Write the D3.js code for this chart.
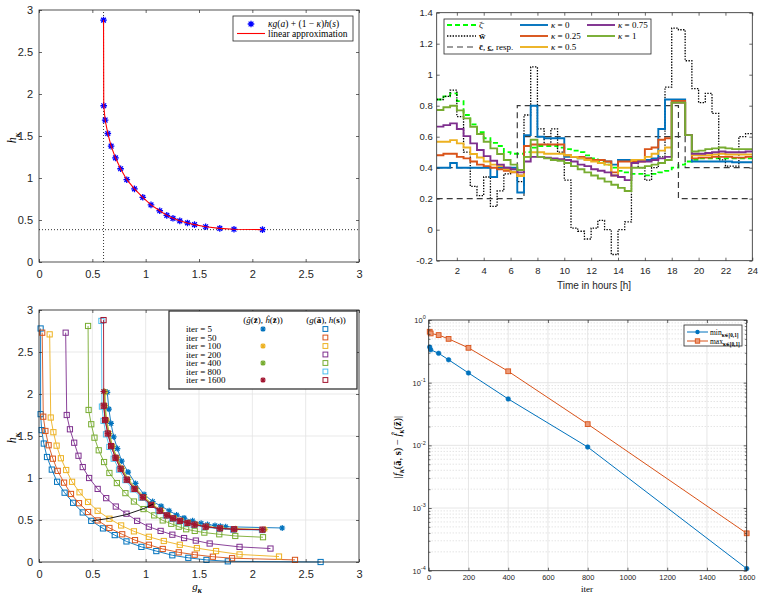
<!DOCTYPE html>
<html><head><meta charset="utf-8">
<script src="https://cdn.jsdelivr.net/npm/d3@7"></script>
<style>body{margin:0;background:#fff}svg{display:block}</style>
</head><body><svg id="c" width="763" height="597"></svg>
<script>
// ---------- DATA ----------
// Panel 1 (top-left)
const tlG = [0.605,0.607,0.62,0.645,0.676,0.717,0.765,0.823,0.895,0.973,1.05,1.132,1.198,1.256,1.32,1.392,1.458,1.562,1.695,1.828,2.095];
const tlH = [2.88,1.86,1.69,1.53,1.38,1.24,1.11,0.98,0.87,0.77,0.68,0.61,0.555,0.52,0.49,0.465,0.445,0.42,0.40,0.39,0.385];
const tlGmin = 0.605, tlHmin = 0.385;
const ticks03 = [0,0.5,1,1.5,2,2.5,3];

// Panel 2 (top-right), half-hour slots from 0.5 to 24
const hours = d3.range(0.5, 24.01, 0.5);
const zeta = [0.84,0.86,0.88,0.83,0.74,0.68,0.63,0.59,0.56,0.54,0.50,0.49,0.49,0.50,0.53,0.54,0.54,0.54,0.53,0.52,0.51,0.50,0.48,0.46,0.44,0.42,0.40,0.38,0.37,0.36,0.36,0.35,0.36,0.37,0.38,0.40,0.42,0.44,0.45,0.46,0.46,0.46,0.46,0.46,0.46,0.46,0.46,0.46];
const wbar = [0.84,0.86,0.90,0.73,0.50,0.28,0.22,0.34,0.15,0.25,0.36,0.40,0.31,0.74,1.05,0.65,0.55,0.65,0.50,0.32,0.01,-0.01,-0.06,0.01,0.06,0.00,-0.16,0.00,0.05,0.45,0.40,0.32,0.40,0.47,0.92,1.30,1.29,1.09,0.91,0.82,0.88,0.75,0.45,0.41,0.41,0.60,0.62,0.62];
const cUp = [0.4,0.4,0.4,0.4,0.4,0.4,0.4,0.4,0.4,0.4,0.4,0.4,0.8,0.8,0.8,0.8,0.8,0.8,0.8,0.8,0.8,0.8,0.8,0.8,0.8,0.8,0.8,0.8,0.8,0.8,0.8,0.8,0.8,0.8,0.8,0.8,0.2,0.2,0.2,0.2,0.2,0.2,0.2,0.2,0.2,0.2,0.2,0.2];
const cLo = [0.2,0.2,0.2,0.2,0.2,0.2,0.2,0.2,0.2,0.2,0.2,0.2,0.2,0.6,0.6,0.6,0.6,0.6,0.6,0.6,0.6,0.6,0.6,0.6,0.6,0.6,0.6,0.6,0.6,0.6,0.6,0.6,0.6,0.6,0.6,0.6,0.6,0.4,0.4,0.4,0.4,0.4,0.4,0.4,0.4,0.4,0.4,0.4];
const k0 = [0.40,0.40,0.43,0.40,0.40,0.40,0.40,0.40,0.34,0.40,0.40,0.40,0.24, 0.61,0.80,0.60,0.59,0.59,0.59,0.47, 0.47,0.46,0.46,0.45,0.45,0.44,0.42,0.45,0.45,0.45, 0.45,0.45,0.46,0.65,0.84,0.84,0.84,0.61, 0.44,0.44,0.44,0.44,0.44,0.44,0.435,0.435,0.435,0.435];
const k25 = [0.48,0.49,0.49,0.47,0.46,0.44,0.42,0.41,0.40,0.39,0.38,0.37,0.35, 0.54,0.55,0.55,0.55,0.55,0.55,0.48, 0.47,0.47,0.46,0.45,0.45,0.44,0.37,0.44,0.44,0.44, 0.44,0.52,0.53,0.58,0.59,0.83,0.83,0.61, 0.46,0.465,0.465,0.47,0.47,0.47,0.465,0.465,0.47,0.47];
const k50 = [0.567,0.567,0.578,0.557,0.53,0.488,0.466,0.44,0.42,0.41,0.39,0.374,0.346, 0.47,0.50,0.50,0.49,0.49,0.49,0.48, 0.47,0.46,0.45,0.44,0.43,0.42,0.35,0.40,0.40,0.45, 0.45,0.47,0.49,0.51,0.53,0.82,0.82,0.61, 0.48,0.48,0.48,0.485,0.49,0.485,0.485,0.485,0.485,0.485];
const k75 = [0.665,0.675,0.686,0.65,0.604,0.557,0.514,0.475,0.445,0.42,0.40,0.39,0.37, 0.44,0.47,0.47,0.465,0.46,0.455,0.45, 0.44,0.42,0.41,0.39,0.38,0.37,0.35,0.34,0.32,0.43, 0.44,0.44,0.45,0.46,0.47,0.82,0.82,0.61, 0.49,0.49,0.495,0.50,0.505,0.50,0.50,0.50,0.505,0.505];
const k100 = [0.772,0.79,0.80,0.77,0.718,0.664,0.617,0.567,0.525,0.488,0.45,0.42,0.385, 0.47,0.58,0.47,0.46,0.45,0.445,0.43, 0.41,0.39,0.37,0.35,0.33,0.31,0.29,0.27,0.25,0.40, 0.40,0.41,0.42,0.43,0.45,0.82,0.82,0.61, 0.505,0.51,0.52,0.525,0.53,0.525,0.52,0.52,0.52,0.52];
const kappaLabels = ["0","0.25","0.5","0.75","1"];
const trXTicks = [2,4,6,8,10,12,14,16,18,20,22,24];
const trYTicks = [-0.2,0,0.2,0.4,0.6,0.8,1,1.2,1.4];

// Panel 3 (bottom-left)
const iterLabels = ["5","50","100","200","400","800","1600"];
const sq5G = [0.015,0.015,0.025,0.045,0.075,0.12,0.17,0.24,0.32,0.41,0.49,0.60,0.71,0.82,0.96,1.10,1.25,1.40,1.57,1.77,2.64];
const sq5H = [2.78,1.76,1.57,1.41,1.25,1.10,0.955,0.825,0.705,0.59,0.49,0.40,0.32,0.245,0.18,0.13,0.08,0.05,0.025,0.008,0.0];
const sq50G = [0.03,0.04,0.06,0.09,0.13,0.175,0.235,0.30,0.375,0.46,0.55,0.66,0.78,0.90,1.03,1.16,1.31,1.46,1.63,1.81,2.40];
const sq50H = [2.73,1.73,1.56,1.39,1.23,1.085,0.945,0.81,0.70,0.595,0.495,0.405,0.33,0.26,0.205,0.155,0.115,0.087,0.063,0.045,0.025];
const sq100G = [0.10,0.11,0.135,0.165,0.205,0.255,0.31,0.38,0.46,0.55,0.66,0.77,0.89,1.03,1.17,1.32,1.48,1.66,1.88,2.25];
const sq100H = [2.71,1.72,1.545,1.385,1.235,1.095,0.955,0.83,0.715,0.61,0.515,0.435,0.365,0.30,0.25,0.205,0.165,0.13,0.09,0.065];
const sq200G = [0.25,0.26,0.29,0.33,0.37,0.41,0.47,0.55,0.63,0.72,0.82,0.92,1.03,1.14,1.25,1.36,1.47,1.60,1.88,2.17];
const sq200H = [2.73,1.75,1.58,1.42,1.265,1.13,1.0,0.87,0.76,0.66,0.575,0.49,0.42,0.37,0.325,0.285,0.255,0.22,0.18,0.16];
const sq400G = [0.46,0.465,0.49,0.52,0.56,0.61,0.66,0.73,0.81,0.89,0.98,1.08,1.16,1.24,1.31,1.38,1.46,1.55,1.69,1.84,2.10];
const sq400H = [2.81,1.81,1.64,1.48,1.33,1.19,1.06,0.94,0.82,0.72,0.63,0.555,0.495,0.455,0.42,0.39,0.37,0.35,0.33,0.31,0.295];
const sq800G = [0.585,0.59,0.605,0.628,0.66,0.70,0.75,0.81,0.88,0.96,1.04,1.12,1.19,1.25,1.31,1.38,1.45,1.55,1.69,1.82,2.09];
const sq800H = [2.87,1.85,1.68,1.52,1.37,1.23,1.10,0.975,0.865,0.765,0.68,0.605,0.555,0.515,0.485,0.46,0.44,0.415,0.395,0.385,0.38];
const sq1600G = [0.605,0.607,0.62,0.645,0.676,0.717,0.765,0.823,0.895,0.973,1.05,1.132,1.198,1.256,1.32,1.392,1.458,1.562,1.695,1.828,2.095];
const sq1600H = [2.88,1.86,1.69,1.53,1.38,1.24,1.11,0.98,0.87,0.77,0.68,0.61,0.555,0.52,0.49,0.465,0.445,0.42,0.40,0.39,0.385];
const st5G = [0.64,0.655,0.675,0.70,0.735,0.775,0.835,0.905,0.985,1.065,1.145,1.22,1.29,1.36,1.44,1.52,1.58,1.65,1.70,1.75,2.28];
const st5H = [2.02,1.82,1.65,1.49,1.35,1.20,1.07,0.935,0.805,0.72,0.665,0.61,0.56,0.525,0.49,0.46,0.445,0.435,0.425,0.42,0.405];
const st100G = [0.62,0.622,0.635,0.66,0.69,0.73,0.78,0.838,0.91,0.988,1.065,1.147,1.213,1.27,1.335,1.405,1.472,1.575,1.71,1.843,2.12];
const st100H = [2.02,1.86,1.69,1.53,1.38,1.245,1.115,0.985,0.875,0.775,0.685,0.615,0.56,0.525,0.495,0.47,0.45,0.425,0.405,0.395,0.39];
const st400G = [0.615,0.617,0.63,0.655,0.686,0.727,0.775,0.833,0.905,0.983,1.06,1.142,1.208,1.266,1.33,1.40,1.466,1.57,1.703,1.836,2.105];
const st400H = [2.03,1.86,1.69,1.53,1.38,1.24,1.11,0.98,0.87,0.77,0.68,0.61,0.555,0.52,0.49,0.465,0.445,0.42,0.40,0.39,0.385];
const st1600G = [0.605,0.607,0.62,0.645,0.676,0.717,0.765,0.823,0.895,0.973,1.05,1.132,1.198,1.256,1.32,1.392,1.458,1.562,1.695,1.828,2.095];
const st1600H = [2.03,1.86,1.69,1.53,1.38,1.24,1.11,0.98,0.87,0.77,0.68,0.61,0.555,0.52,0.49,0.465,0.445,0.42,0.40,0.39,0.385];
const blackG = [0.50,0.66,0.82,0.98,1.07];
const blackH = [0.49,0.52,0.565,0.635,0.69];

// Panel 4 (bottom-right)
const iters = [5,10,50,100,200,400,800,1600];
const errMin = [0.37,0.335,0.294,0.232,0.143,0.055,0.0094,0.000108];
const errMax = [0.65,0.61,0.575,0.50,0.36,0.152,0.0218,0.000395];
const brXTicks = [0,200,400,600,800,1000,1200,1400,1600];
const brYTicks = [1e-4,1e-3,1e-2,1e-1,1];
const brYExp = ["-4","-3","-2","-1","0"];

// ---------- HELPERS ----------
const SANS = '"Liberation Sans", Arial, Helvetica, sans-serif';
const SERIF = '"Liberation Serif", "DejaVu Serif", serif';
const AX = '#262626';
const svg = d3.select('#c');

const C = {blue:'#0072BD', orange:'#D95319', yellow:'#EDB120', purple:'#7E2F8E', green:'#77AC30', cyan:'#4DBEEE', red:'#A2142F'};

function rich(sel, x, y, parts, size, anchor, rot) {
  const t = sel.append('text').attr('x', x).attr('y', y).attr('font-size', size)
    .attr('font-family', SERIF).attr('fill', '#000').attr('text-anchor', anchor || 'start');
  if (rot) t.attr('transform', `rotate(${rot},${x},${y})`);
  let shift = 0;
  parts.forEach(p => {
    const s = typeof p === 'string' ? p : p[0];
    const st = typeof p === 'string' ? '' : p[1];
    let target = 0;
    if (st.includes('sub')) target = size * 0.3;
    if (st.includes('sup')) target = -size * 0.4;
    const ts = t.append('tspan').text(s);
    if (target - shift !== 0) ts.attr('dy', target - shift);
    shift = target;
    if (st.includes('i')) ts.attr('font-style', 'italic');
    if (st.includes('b')) ts.attr('font-weight', 'bold');
    if (st.includes('sub') || st.includes('sup')) ts.attr('font-size', size * 0.7);
  });
  return t;
}

function frame(x, y, xt, yt, xf, yf, fs, padX, padY) {
  const [xa, xb] = x.range(), [ya, yb] = y.range();
  const gs = [];
  gs.push(svg.append('g').attr('transform', `translate(0,${ya})`).call(d3.axisBottom(x).tickValues(xt).tickSizeInner(-3).tickSizeOuter(0).tickPadding(padX).tickFormat(xf)));
  gs.push(svg.append('g').attr('transform', `translate(0,${yb})`).call(d3.axisTop(x).tickValues(xt).tickSizeInner(-3).tickSizeOuter(0).tickFormat(() => '')));
  gs.push(svg.append('g').attr('transform', `translate(${xa},0)`).call(d3.axisLeft(y).tickValues(yt).tickSizeInner(-3).tickSizeOuter(0).tickPadding(padY).tickFormat(yf)));
  gs.push(svg.append('g').attr('transform', `translate(${xb},0)`).call(d3.axisRight(y).tickValues(yt).tickSizeInner(-3).tickSizeOuter(0).tickFormat(() => '')));
  gs.forEach(g => {
    g.select('.domain').remove();
    g.selectAll('line').attr('stroke', AX).attr('stroke-width', 0.7);
    g.selectAll('text').attr('fill', AX).attr('font-size', fs).attr('font-family', SANS);
  });
  svg.append('rect').attr('x', xa).attr('y', yb).attr('width', xb - xa).attr('height', ya - yb)
    .attr('fill', 'none').attr('stroke', AX).attr('stroke-width', 0.8);
  return gs;
}

function starPath(s) {
  const d = s * 0.72;
  return `M${-s},0L${s},0M0,${-s}L0,${s}M${-d},${-d}L${d},${d}M${-d},${d}L${d},${-d}`;
}
const fmtTick = d => (d === 0 ? '0' : String(d));

function clipRect(id, x, y, w, h) {
  svg.append('clipPath').attr('id', id).append('rect').attr('x', x).attr('y', y).attr('width', w).attr('height', h);
}

// ---------- PANEL 1 ----------
{
  const x = d3.scaleLinear().domain([0, 3]).range([39, 359]);
  const y = d3.scaleLinear().domain([0, 3]).range([262, 10]);
  frame(x, y, ticks03, ticks03, fmtTick, fmtTick, 11, 8, 6);
  svg.append('line').attr('x1', x(tlGmin)).attr('x2', x(tlGmin)).attr('y1', y(0)).attr('y2', y(3))
    .attr('stroke', '#000').attr('stroke-width', 0.8).attr('stroke-dasharray', '1,2');
  svg.append('line').attr('x1', x(0)).attr('x2', x(3)).attr('y1', y(tlHmin)).attr('y2', y(tlHmin))
    .attr('stroke', '#000').attr('stroke-width', 0.8).attr('stroke-dasharray', '1,2');
  const pts = tlG.map((g, i) => [g, tlH[i]]);
  svg.append('g').selectAll('path').data(pts).join('path')
    .attr('transform', d => `translate(${x(d[0])},${y(d[1])})`).attr('d', starPath(3.3))
    .attr('stroke', '#0000FF').attr('stroke-width', 1.3).attr('fill', 'none');
  svg.append('path').datum(pts).attr('d', d3.line().x(d => x(d[0])).y(d => y(d[1])))
    .attr('fill', 'none').attr('stroke', '#FF0000').attr('stroke-width', 1.1);
  // legend
  svg.append('rect').attr('x', 233).attr('y', 16).attr('width', 120).attr('height', 25)
    .attr('fill', '#fff').attr('stroke', AX).attr('stroke-width', 0.8);
  svg.append('path').attr('transform', 'translate(251,24)').attr('d', starPath(3.3))
    .attr('stroke', '#0000FF').attr('stroke-width', 1.3).attr('fill', 'none');
  rich(svg, 268, 27, [['κg', 'i'], '(', ['a', 'i'], ') + (1 − ', ['κ', 'i'], ')', ['h', 'i'], '(', ['s', 'i'], ')'], 9.5);
  svg.append('line').attr('x1', 237).attr('x2', 265).attr('y1', 33.5).attr('y2', 33.5).attr('stroke', '#FF0000').attr('stroke-width', 1.1);
  rich(svg, 268, 36.5, ['linear approximation'], 9.5);
  rich(svg, 16, 138, [['h', 'i'], ['κ', 'i sub']], 12, 'middle', -90);
  clipRect('clipTL', 0, 0, 380, 287);
  const xl = rich(svg, 197, 293, [['g', 'i'], ['κ', 'i sub']], 12, 'middle');
  xl.attr('clip-path', 'url(#clipTL)');
}

// ---------- PANEL 2 ----------
{
  const x = d3.scaleLinear().domain([0.5, 24]).range([436.7, 752.3]);
  const y = d3.scaleLinear().domain([-0.2, 1.4]).range([260.7, 12.7]);
  clipRect('clipTR', 436.7, 12.7, 315.6, 248);
  const gl = svg.append('g').attr('clip-path', 'url(#clipTR)');
  const line = d3.line().curve(d3.curveStepAfter).x((d, i) => x(hours[i])).y(d => y(d));
  gl.append('path').datum(zeta).attr('d', line).attr('fill', 'none').attr('stroke', '#00FF00').attr('stroke-width', 1.8).attr('stroke-dasharray', '5,3');
  gl.append('path').datum(wbar).attr('d', line).attr('fill', 'none').attr('stroke', '#000').attr('stroke-width', 1.3).attr('stroke-dasharray', '1.4,1.4');
  gl.append('path').datum(cUp).attr('d', line).attr('fill', 'none').attr('stroke', '#3a3a3a').attr('stroke-width', 1.2).attr('stroke-dasharray', '6,4');
  gl.append('path').datum(cLo).attr('d', line).attr('fill', 'none').attr('stroke', '#3a3a3a').attr('stroke-width', 1.2).attr('stroke-dasharray', '6,4');
  const ks = [[k0, C.blue], [k25, C.orange], [k50, C.yellow], [k75, C.purple], [k100, C.green]];
  ks.forEach(([arr, col]) => {
    gl.append('path').datum(arr).attr('d', line).attr('fill', 'none').attr('stroke', col).attr('stroke-width', 1.9);
  });
  frame(x, y, trXTicks, trYTicks, fmtTick, fmtTick, 9.5, 7, 4);
  svg.append('text').attr('x', 594).attr('y', 289).attr('text-anchor', 'middle').attr('font-size', 10)
    .attr('font-family', SANS).attr('fill', AX).text('Time in hours [h]');
  // legend
  svg.append('rect').attr('x', 444).attr('y', 19).attr('width', 207).attr('height', 35)
    .attr('fill', '#fff').attr('stroke', AX).attr('stroke-width', 0.8);
  const rows = [25, 36, 47];
  const sample = (x1, x2, yy, col, w, dash) => {
    const l = svg.append('line').attr('x1', x1).attr('x2', x2).attr('y1', yy).attr('y2', yy).attr('stroke', col).attr('stroke-width', w);
    if (dash) l.attr('stroke-dasharray', dash);
  };
  sample(447, 476, rows[0], '#00FF00', 1.8, '5,3');
  rich(svg, 479, rows[0] + 3, ['\u03B6\u0304'], 9);
  sample(447, 476, rows[1], '#000', 1.3, '1.4,1.4');
  rich(svg, 479, rows[1] + 3, [['w\u0304', 'b']], 9);
  sample(447, 476, rows[2], '#3a3a3a', 1.2, '6,4');
  rich(svg, 479, rows[2] + 3, [['c\u0304', 'b'], ', ', ['c\u0332', 'b'], ', resp.'], 9);
  const kpos = [[520, rows[0]], [520, rows[1]], [520, rows[2]], [587, rows[0]], [587, rows[1]]];
  ks.forEach(([arr, col], i) => {
    const [lx, ly] = kpos[i];
    sample(lx, lx + 28, ly, col, 1.9);
    rich(svg, lx + 31, ly + 3, [['κ', 'i'], ' = ' + kappaLabels[i]], 9);
  });
}

// ---------- PANEL 3 ----------
{
  const x = d3.scaleLinear().domain([0, 3]).range([39, 359]);
  const y = d3.scaleLinear().domain([0, 3]).range([562, 310]);
  const grid = svg.append('g');
  ticks03.forEach(t => {
    grid.append('line').attr('x1', x(t)).attr('x2', x(t)).attr('y1', y(0)).attr('y2', y(3)).attr('stroke', '#e3e3e3').attr('stroke-width', 0.8);
    grid.append('line').attr('x1', x(0)).attr('x2', x(3)).attr('y1', y(t)).attr('y2', y(t)).attr('stroke', '#e3e3e3').attr('stroke-width', 0.8);
  });
  const ln = d3.line().x(d => x(d[0])).y(d => y(d[1]));
  const squares = (G, H, col) => {
    const pts = G.map((g, i) => [g, H[i]]);
    svg.append('path').datum(pts).attr('d', ln).attr('fill', 'none').attr('stroke', col).attr('stroke-width', 0.9);
    svg.append('g').selectAll('rect').data(pts).join('rect')
      .attr('x', d => x(d[0]) - 2.6).attr('y', d => y(d[1]) - 2.6).attr('width', 5.2).attr('height', 5.2)
      .attr('fill', 'none').attr('stroke', col).attr('stroke-width', 1);
  };
  const stars = (G, H, col) => {
    const pts = G.map((g, i) => [g, H[i]]);
    svg.append('path').datum(pts).attr('d', ln).attr('fill', 'none').attr('stroke', col).attr('stroke-width', 0.9);
    svg.append('g').selectAll('path').data(pts).join('path')
      .attr('transform', d => `translate(${x(d[0])},${y(d[1])})`).attr('d', starPath(3))
      .attr('stroke', col).attr('stroke-width', 1.2).attr('fill', 'none');
  };
  squares(sq5G, sq5H, C.blue); stars(st5G, st5H, C.blue);
  squares(sq50G, sq50H, C.orange);
  squares(sq100G, sq100H, C.yellow); stars(st100G, st100H, C.yellow);
  squares(sq200G, sq200H, C.purple);
  squares(sq400G, sq400H, C.green); stars(st400G, st400H, C.green);
  squares(sq800G, sq800H, C.cyan);
  squares(sq1600G, sq1600H, C.red); stars(st1600G, st1600H, C.red);
  svg.append('path').datum(blackG.map((g, i) => [g, blackH[i]])).attr('d', ln)
    .attr('fill', 'none').attr('stroke', '#000').attr('stroke-width', 0.9);
  frame(x, y, ticks03, ticks03, fmtTick, fmtTick, 11, 8, 6);
  rich(svg, 16, 438, [['h', 'i'], ['κ', 'i sub']], 12, 'middle', -90);
  rich(svg, 197, 590, [['g', 'i'], ['κ', 'i sub']], 11, 'middle');
  // legend
  svg.append('rect').attr('x', 169).attr('y', 311).attr('width', 188).attr('height', 78)
    .attr('fill', '#fff').attr('stroke', AX).attr('stroke-width', 1.2);
  rich(svg, 263, 323, ['(', ['\u011D', 'i'], '(', ['z\u0304', 'b'], '), ', ['\u0125', 'i'], '(', ['z\u0304', 'b'], '))'], 9, 'middle');
  rich(svg, 326, 323, ['(', ['g', 'i'], '(', ['\u0101', 'b'], '), ', ['h', 'i'], '(', ['s', 'b'], '))'], 9, 'middle');
  const cols = [C.blue, C.orange, C.yellow, C.purple, C.green, C.cyan, C.red];
  const starRow = [true, false, true, false, true, false, true];
  iterLabels.forEach((lab, i) => {
    const yy = 329 + i * 8.5;
    rich(svg, 186, yy + 3, ['iter = ' + lab], 9);
    if (starRow[i]) svg.append('path').attr('transform', `translate(263,${yy})`).attr('d', starPath(2.8))
      .attr('stroke', cols[i]).attr('stroke-width', 1.2).attr('fill', 'none');
    svg.append('rect').attr('x', 323).attr('y', yy - 2.4).attr('width', 4.8).attr('height', 4.8)
      .attr('fill', 'none').attr('stroke', cols[i]).attr('stroke-width', 1);
  });
}

// ---------- PANEL 4 ----------
{
  const x = d3.scaleLinear().domain([0, 1600]).range([428.7, 746.7]);
  const y = d3.scaleLog().domain([1e-4, 1]).range([570.7, 320]);
  const minor = [];
  [1e-4, 1e-3, 1e-2, 1e-1].forEach(b => { for (let k = 2; k <= 9; k++) minor.push(b * k); });
  const grid = svg.append('g');
  minor.forEach(v => grid.append('line').attr('x1', x(0)).attr('x2', x(1600)).attr('y1', y(v)).attr('y2', y(v))
    .attr('stroke', '#bdbdbd').attr('stroke-width', 0.6).attr('stroke-dasharray', '1,2'));
  brXTicks.forEach(t => grid.append('line').attr('x1', x(t)).attr('x2', x(t)).attr('y1', y(1e-4)).attr('y2', y(1))
    .attr('stroke', '#e0e0e0').attr('stroke-width', 0.8));
  brYTicks.forEach(t => grid.append('line').attr('x1', x(0)).attr('x2', x(1600)).attr('y1', y(t)).attr('y2', y(t))
    .attr('stroke', '#e0e0e0').attr('stroke-width', 0.8));
  const ln = d3.line().x(d => x(d[0])).y(d => y(d[1]));
  const pMin = iters.map((t, i) => [t, errMin[i]]);
  const pMax = iters.map((t, i) => [t, errMax[i]]);
  svg.append('path').datum(pMin).attr('d', ln).attr('fill', 'none').attr('stroke', C.blue).attr('stroke-width', 1);
  svg.append('g').selectAll('circle').data(pMin).join('circle').attr('cx', d => x(d[0])).attr('cy', d => y(d[1])).attr('r', 2.3)
    .attr('fill', C.blue).attr('stroke', C.blue).attr('stroke-width', 0.6);
  svg.append('path').datum(pMax).attr('d', ln).attr('fill', 'none').attr('stroke', C.orange).attr('stroke-width', 1);
  svg.append('g').selectAll('rect').data(pMax).join('rect').attr('x', d => x(d[0]) - 2.4).attr('y', d => y(d[1]) - 2.4)
    .attr('width', 4.8).attr('height', 4.8).attr('fill', '#EC9A78').attr('stroke', C.orange).attr('stroke-width', 0.9);
  const gs = frame(x, y, brXTicks, brYTicks, d => String(d), () => '', 7.5, 3.5, 3);
  // minor ticks
  svg.append('g').attr('transform', 'translate(428.7,0)').call(d3.axisLeft(y).tickValues(minor).tickSizeInner(-1.8).tickSizeOuter(0).tickFormat(() => ''))
    .call(g => { g.select('.domain').remove(); g.selectAll('line').attr('stroke', AX).attr('stroke-width', 0.6); });
  svg.append('g').attr('transform', 'translate(746.7,0)').call(d3.axisRight(y).tickValues(minor).tickSizeInner(-1.8).tickSizeOuter(0).tickFormat(() => ''))
    .call(g => { g.select('.domain').remove(); g.selectAll('line').attr('stroke', AX).attr('stroke-width', 0.6); });
  gs[2].selectAll('.tick text').each(function (d, i) {
    const t = d3.select(this);
    t.text(null);
    t.append('tspan').text('10');
    t.append('tspan').text(brYExp[brYTicks.indexOf(d)]).attr('dy', -3.5).attr('font-size', 5.5);
  });
  rich(svg, 587, 592, ['iter'], 9, 'middle');
  rich(svg, 401, 447, ['|', ['f', 'i'], ['κ', 'i sub'], '(', ['\u0101', 'b'], ', ', ['s', 'b'], ') − ', ['f\u0302', 'i'], ['κ', 'i sub'], '(', ['z\u0304', 'b'], ')|'], 10.5, 'middle', -90);
  // legend
  svg.append('rect').attr('x', 684).attr('y', 325).attr('width', 58).attr('height', 21)
    .attr('fill', '#fff').attr('stroke', AX).attr('stroke-width', 0.8);
  svg.append('line').attr('x1', 687).attr('x2', 708).attr('y1', 332).attr('y2', 332).attr('stroke', C.blue).attr('stroke-width', 1);
  svg.append('circle').attr('cx', 697.5).attr('cy', 332).attr('r', 2.2).attr('fill', C.blue);
  rich(svg, 710, 334.5, ['min', ['κ∈[0,1]', 'sub']], 7.5);
  svg.append('line').attr('x1', 687).attr('x2', 708).attr('y1', 341).attr('y2', 341).attr('stroke', C.orange).attr('stroke-width', 1);
  svg.append('rect').attr('x', 695.3).attr('y', 338.8).attr('width', 4.4).attr('height', 4.4).attr('fill', '#EC9A78').attr('stroke', C.orange).attr('stroke-width', 0.9);
  rich(svg, 710, 343.5, ['max', ['κ∈[0,1]', 'sub']], 7.5);
}
</script></body></html>
